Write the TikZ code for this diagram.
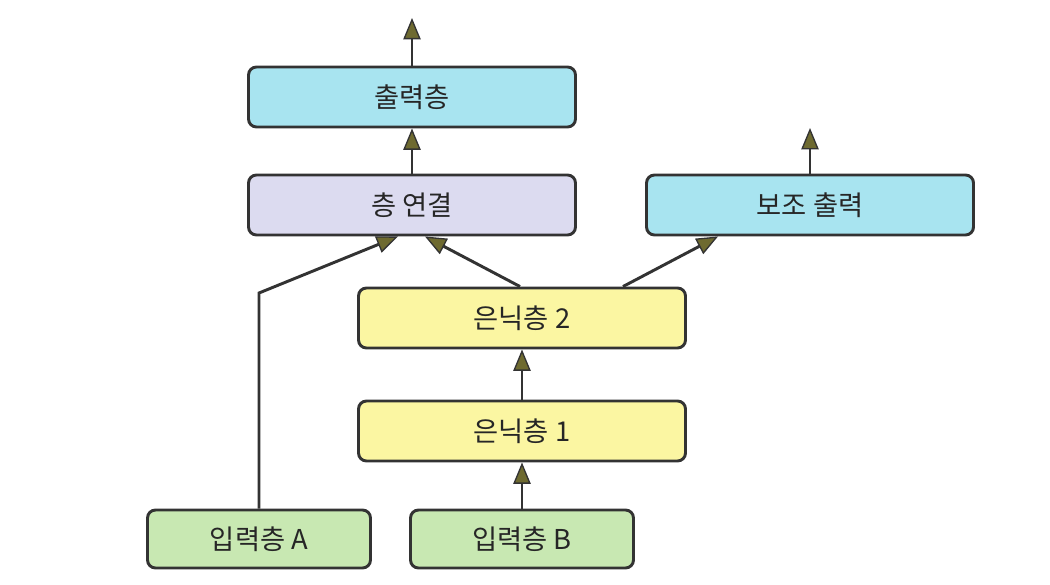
\documentclass[tikz,border=0pt]{standalone}
\usepackage{fontspec}
\setmainfont{Noto Sans CJK KR}
\usetikzlibrary{arrows.meta}
\definecolor{cyanfill}{HTML}{A8E4F0}
\definecolor{lavfill}{HTML}{DCDBF0}
\definecolor{yelfill}{HTML}{FBF6A2}
\definecolor{grnfill}{HTML}{C8E8B2}
\definecolor{edge}{HTML}{333333}
\definecolor{tipfill}{HTML}{6E6A30}
\tikzset{
  x=0.75pt, y=-0.75pt,
  layerbox/.style={draw=edge, line width=2.2pt, rounded corners=6pt, inner sep=0pt,
    font=\fontsize{20.5}{24}\selectfont, text=black!85},
  wide/.style={layerbox, minimum width=245.25pt, minimum height=45pt},
  narrow/.style={layerbox, minimum width=167.25pt, minimum height=43.5pt},
  conn/.style={draw=edge, line width=2.2pt,
    -{Triangle[length=16pt,width=13pt,fill=tipfill,line width=1pt]}},
}
\begin{document}
\begin{tikzpicture}
\useasboundingbox (0,0) rectangle (1050,585);
\node[wide, fill=cyanfill] (out) at (412,97) {출력층};
\node[wide, fill=lavfill] (cat) at (412,205) {층 연결};
\node[wide, fill=cyanfill] (aux) at (810,205) {보조 출력};
\node[wide, fill=yelfill] (h2) at (522,318) {은닉층 2};
\node[wide, fill=yelfill] (h1) at (522,431) {은닉층 1};
\node[narrow, fill=grnfill] (ina) at (259,539) {입력층 A};
\node[narrow, fill=grnfill] (inb) at (522,539) {입력층 B};
\coordinate (outtop) at (412,18);
\coordinate (auxtop) at (810,128);
\coordinate (bend) at (259,293);
\draw[conn] (out.north) -- (outtop);
\draw[conn] (cat.north) -- (out.south);
\draw[conn] (aux.north) -- (auxtop);
\draw[conn] (ina.north) -- (bend) -- (cat.south -| 398,0);
\draw[conn] (h2.north -| 520,0) -- (cat.south -| 425,0);
\draw[conn] (h2.north -| 623,0) -- (aux.south -| 718,0);
\draw[conn] (h1.north) -- (h2.south);
\draw[conn] (inb.north) -- (h1.south);
\end{tikzpicture}
\end{document}
